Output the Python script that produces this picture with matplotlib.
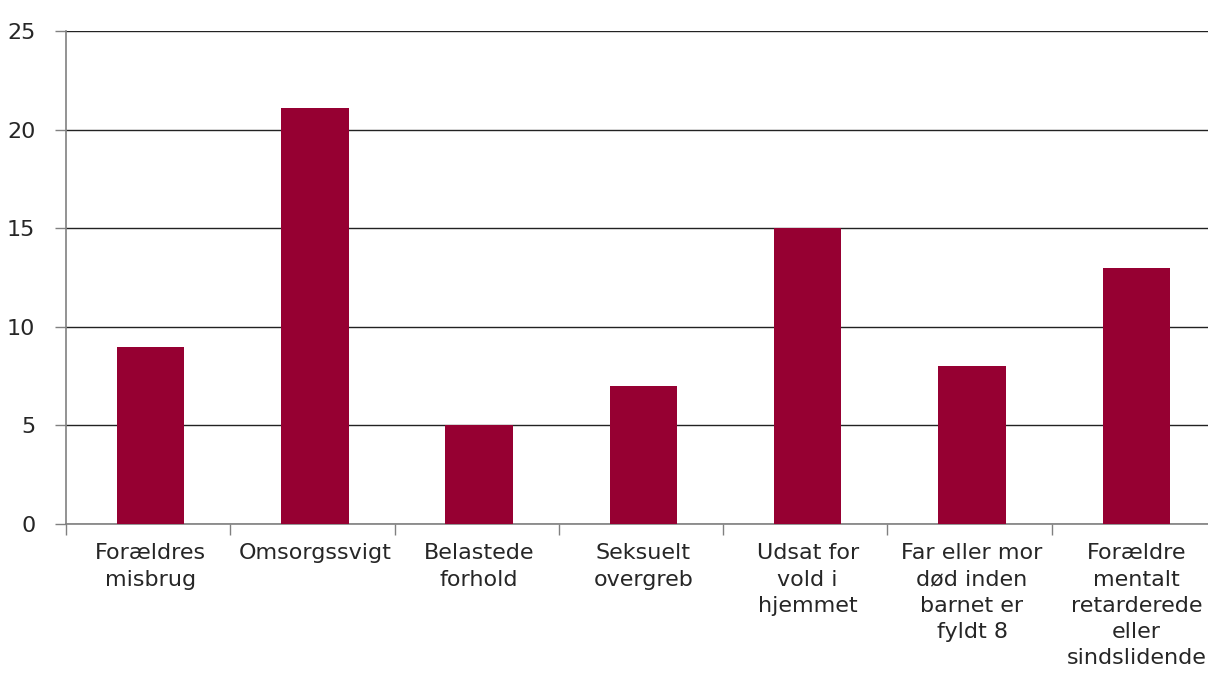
import numpy as np
import matplotlib.pyplot as plt

categories = ['Forældres\nmisbrug', 'Omsorgssvigt', 'Belastede\nforhold', 'Seksuelt\novergreb',
              'Udsat for\nvold i\nhjemmet', 'Far eller mor\ndød inden\nbarnet er\nfyldt 8',
              'Forældre\nmentalt\nretarderede\neller\nsindslidende']
values = [9, 21.1, 5, 7, 15, 8, 13]
yticks = [0, 5, 10, 15, 20, 25]

plt.rcParams['font.family'] = ['DejaVu Sans']
text_color = '#262626'
axis_color = '#808080'

fig = plt.figure(figsize=(12.08, 6.82), dpi=100)
ax = fig.add_axes([0.0546, 0.2317, 0.952, 0.7228])

x = np.arange(len(categories))
ax.bar(x + 0.015, values, width=0.41, color='#960032', zorder=3)

ax.set_xlim(-0.5, len(categories) - 0.5)
ax.set_ylim(0, 25)
ax.set_yticks(yticks)
ax.set_yticklabels([str(t) for t in yticks], fontsize=16, color=text_color)
ax.yaxis.grid(True, color='#222222', linewidth=1, zorder=1)
ax.tick_params(axis='y', length=8, width=1, color=axis_color, pad=14)

ax.set_xticks(x + 0.015)
ax.set_xticklabels(categories, fontsize=16, color=text_color, linespacing=1.38)
ax.tick_params(axis='x', which='major', length=0, pad=14)
ax.set_xticks(np.arange(-0.5, len(categories), 1), minor=True)
ax.tick_params(axis='x', which='minor', length=8, width=1, color=axis_color)

for side in ['top', 'right']:
    ax.spines[side].set_visible(False)
ax.spines['left'].set_color(axis_color)
ax.spines['bottom'].set_color(axis_color)
ax.spines['left'].set_linewidth(1.2)
ax.spines['bottom'].set_linewidth(1.2)

fig.savefig('out.png', dpi=100)
